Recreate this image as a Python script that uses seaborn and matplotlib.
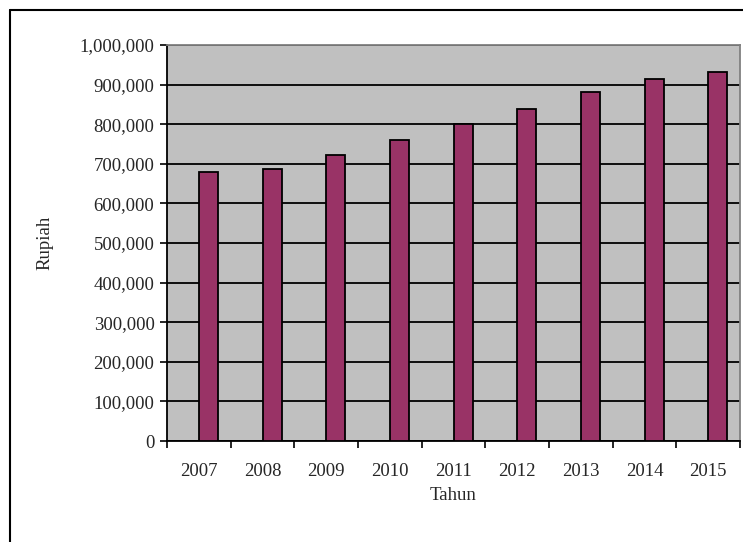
import matplotlib
matplotlib.use("Agg")
import matplotlib.pyplot as plt
import seaborn as sns
import pandas as pd
from matplotlib.ticker import FuncFormatter, FixedLocator
from matplotlib.lines import Line2D

years = ["2007", "2008", "2009", "2010", "2011", "2012", "2013", "2014", "2015"]
rupiah = [680000, 688000, 722000, 761000, 801000, 839000, 882000, 915000, 932000]

sns.set_style("white")
plt.rcParams['font.family'] = ['Liberation Serif', 'DejaVu Serif']
FS = 13.5

df = pd.DataFrame({"Tahun": years, "Rupiah": rupiah})

fig = plt.figure(figsize=(7.43, 5.42), dpi=100)
W, H = 743, 542
ax = fig.add_axes([167 / W, 1 - 441 / H, 573 / W, 396 / H])
ax.set_facecolor("#C0C0C0")

sns.barplot(data=df, x="Tahun", y="Rupiah", order=years, color="#993366",
            width=0.3, edgecolor="black", linewidth=1.3, saturation=1, ax=ax, zorder=3)
for p in ax.patches:
    p.set_x(p.get_x() + 0.15)

ax.set_xlim(-0.5, len(years) - 0.5)
ax.set_ylim(0, 1000000)
ax.yaxis.set_major_locator(FixedLocator(range(0, 1000001, 100000)))
ax.yaxis.set_major_formatter(FuncFormatter(lambda v, _: f"{int(v):,}"))
ax.yaxis.grid(True, color="black", linewidth=1.3, zorder=1)
ax.xaxis.grid(False)
ax.set_axisbelow(True)

ax.xaxis.set_minor_locator(FixedLocator([i - 0.5 for i in range(len(years) + 1)]))
ax.tick_params(axis="x", which="major", length=0, pad=16, labelsize=FS)
ax.tick_params(axis="x", which="minor", length=5, width=1.2, direction="out", color="black", bottom=True)
ax.tick_params(axis="y", which="major", length=5, width=1.2, direction="out", color="black", left=True, pad=4, labelsize=FS)

for s in ["left", "bottom"]:
    ax.spines[s].set_color("black")
    ax.spines[s].set_linewidth(1.3)
for s in ["top", "right"]:
    ax.spines[s].set_color("#808080")
    ax.spines[s].set_linewidth(1.3)

ax.set_xlabel("Tahun", fontsize=FS, labelpad=5)
ax.set_ylabel("Rupiah", fontsize=FS, labelpad=19)

fig.add_artist(Line2D([10 / W, 1.0], [1 - 10 / H, 1 - 10 / H], color="black", linewidth=1.5, transform=fig.transFigure))
fig.add_artist(Line2D([10 / W, 10 / W], [0.0, 1 - 10 / H], color="black", linewidth=1.5, transform=fig.transFigure))

fig.savefig("out.png", dpi=100)
